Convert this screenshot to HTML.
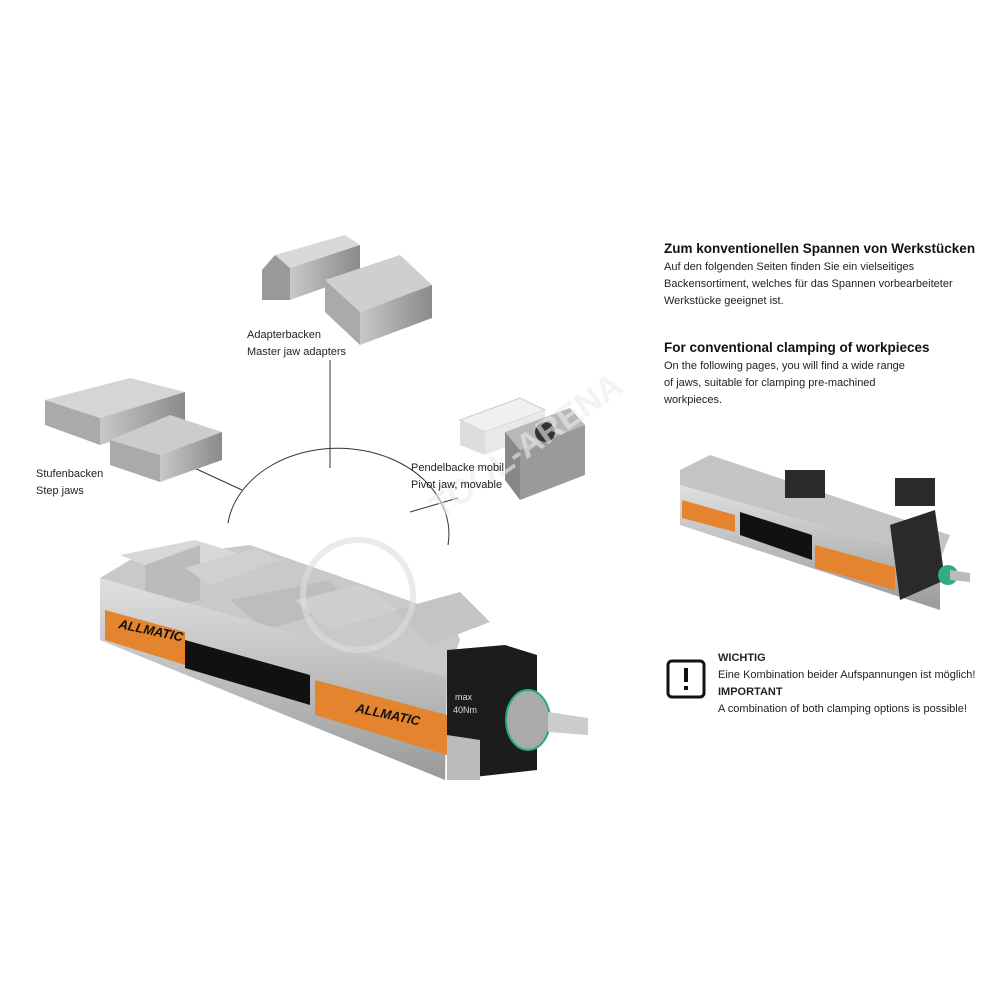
<!DOCTYPE html>
<html><head><meta charset="utf-8"><style>
body{margin:0;background:#fff;width:1000px;height:1000px;overflow:hidden;position:relative;font-family:"Liberation Sans",sans-serif;}
.t{position:absolute;color:#222;font-size:11px;line-height:17px;}
.h{font-weight:bold;font-size:13.5px;color:#111;}
</style></head><body>
<svg width="1000" height="1000" style="position:absolute;left:0;top:0">
<defs>
<linearGradient id="st" x1="0" y1="0" x2="0" y2="1"><stop offset="0" stop-color="#e0e0e0"/><stop offset="1" stop-color="#9a9a9a"/></linearGradient>
<linearGradient id="st2" x1="0" y1="0" x2="1" y2="0"><stop offset="0" stop-color="#c8c8c8"/><stop offset="1" stop-color="#8a8a8a"/></linearGradient>
</defs>
<path d="M228,523 A110,85 0 0 1 448,545" fill="none" stroke="#333" stroke-width="1"/>
<line x1="330" y1="360" x2="330" y2="468" stroke="#333"/>
<line x1="190" y1="466" x2="242" y2="490" stroke="#333"/>
<line x1="410" y1="512" x2="458" y2="498" stroke="#333"/>
<polygon points="275,255 345,235 360,245 290,268" fill="#d8d8d8"/>
<polygon points="262,270 275,255 290,268 290,300 262,300" fill="#999"/>
<polygon points="290,268 360,245 360,275 290,300" fill="url(#st2)"/>
<polygon points="325,280 400,255 432,285 360,312" fill="#cfcfcf"/>
<polygon points="325,280 360,312 360,345 325,312" fill="#aaa"/>
<polygon points="360,312 432,285 432,318 360,345" fill="url(#st2)"/>
<polygon points="45,400 130,378 185,392 100,418" fill="#d5d5d5"/>
<polygon points="45,400 100,418 100,445 45,425" fill="#aaa"/>
<polygon points="100,418 185,392 185,420 100,445" fill="url(#st2)"/>
<polygon points="110,440 170,415 222,432 160,455" fill="#ccc"/>
<polygon points="110,440 160,455 160,482 110,465" fill="#aaa"/>
<polygon points="160,455 222,432 222,460 160,482" fill="url(#st2)"/>
<polygon points="460,420 520,398 545,410 485,432" fill="#f0f0f0" stroke="#ccc"/>
<polygon points="460,420 485,432 485,455 460,445" fill="#ddd"/>
<polygon points="485,432 545,410 545,432 485,455" fill="#e8e8e8"/>
<polygon points="505,432 570,408 585,425 520,450" fill="#b8b8b8"/>
<polygon points="505,432 520,450 520,500 505,480" fill="#888"/>
<polygon points="520,450 585,425 585,475 520,500" fill="#9a9a9a"/>
<circle cx="545" cy="432" r="10" fill="#333"/>
<polygon points="100,578 130,560 250,545 450,615 460,640 447,677 100,580" fill="#c9c9c9"/>
<polygon points="120,555 195,540 260,560 180,580" fill="#d8d8d8"/>
<polygon points="145,565 200,545 200,600 145,612" fill="#bbb"/>
<polygon points="185,568 255,548 280,560 210,585" fill="#d0d0d0"/>
<polygon points="230,600 330,580 350,605 265,630" fill="#bdbdbd"/>
<polygon points="295,600 360,585 400,610 330,630" fill="#cfcfcf"/>
<polygon points="395,610 460,592 490,622 430,645" fill="#c4c4c4"/>
<polygon points="100,578 447,677 445,780 100,640" fill="url(#st)"/>
<polygon points="105,610 185,632 185,665 105,640" fill="#e5842f"/>
<polygon points="315,680 447,715 447,755 315,715" fill="#e5842f"/>
<polygon points="185,640 310,675 310,705 185,668" fill="#111"/>
<text x="118" y="628" font-size="13" font-weight="bold" font-style="italic" fill="#111" transform="rotate(12 118 628)">ALLMATIC</text>
<text x="355" y="712" font-size="13" font-weight="bold" font-style="italic" fill="#111" transform="rotate(12 355 712)">ALLMATIC</text>
<polygon points="447,650 505,645 537,655 537,770 447,780" fill="#1c1c1c"/>
<polygon points="447,735 480,740 480,780 447,780" fill="#bbb"/>
<text x="455" y="700" font-size="9" fill="#ddd">max</text>
<text x="453" y="713" font-size="9" fill="#ddd">40Nm</text>
<ellipse cx="528" cy="720" rx="22" ry="30" fill="#aaa" stroke="#2a8" stroke-width="2"/>
<polygon points="548,712 588,718 588,735 548,732" fill="#ccc"/>
<polygon points="680,470 710,455 950,535 940,560 680,485" fill="#c4c4c4"/>
<polygon points="680,485 940,560 940,610 680,525" fill="url(#st)"/>
<polygon points="682,500 735,515 735,532 682,518" fill="#e5842f"/>
<polygon points="815,545 895,567 895,590 815,568" fill="#e5842f"/>
<polygon points="740,512 812,535 812,560 740,535" fill="#111"/>
<polygon points="890,525 935,510 945,580 900,600" fill="#2a2a2a"/>
<rect x="785" y="470" width="40" height="28" fill="#2b2b2b"/>
<rect x="895" y="478" width="40" height="28" fill="#2b2b2b"/>
<circle cx="948" cy="575" r="10" fill="#3a8" />
<polygon points="950,570 970,573 970,582 950,580" fill="#bbb"/>
<circle cx="358" cy="595" r="55" fill="none" stroke="#ddd" stroke-width="6" opacity="0.6"/>
<text x="440" y="520" font-size="34" font-weight="bold" fill="#ececec" opacity="0.6" transform="rotate(-35 440 520)">TOOL-ARENA</text>
<rect x="668" y="661" width="36" height="36" rx="4" fill="none" stroke="#111" stroke-width="3"/>
<rect x="684" y="668" width="4" height="14" fill="#111"/>
<rect x="684" y="686" width="4" height="4" fill="#111"/>
</svg>
<div class="t" style="left:247px;top:327px;">Adapterbacken<br>Master jaw adapters</div>
<div class="t" style="left:36px;top:466px;">Stufenbacken<br>Step jaws</div>
<div class="t" style="left:411px;top:460px;">Pendelbacke mobil<br>Pivot jaw, movable</div>
<div class="t" style="left:664px;top:240px;"><span class="h">Zum konventionellen Spannen von Werkstücken</span><br>Auf den folgenden Seiten finden Sie ein vielseitiges<br>Backensortiment, welches für das Spannen vorbearbeiteter<br>Werkstücke geeignet ist.</div>
<div class="t" style="left:664px;top:339px;"><span class="h">For conventional clamping of workpieces</span><br>On the following pages, you will find a wide range<br>of jaws, suitable for clamping pre-machined<br>workpieces.</div>
<div class="t" style="left:718px;top:650px;"><b>WICHTIG</b><br>Eine Kombination beider Aufspannungen ist möglich!<br><b>IMPORTANT</b><br>A combination of both clamping options is possible!</div>
</body></html>
